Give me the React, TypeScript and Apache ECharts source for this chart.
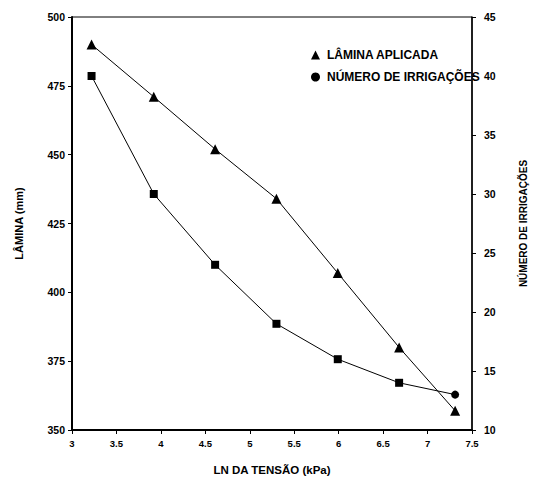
import React, { useEffect, useRef } from "react";
import * as echarts from "echarts";

const tensionLn = [3.22, 3.92, 4.61, 5.3, 5.99, 6.68, 7.31];
const laminaAplicada = [490, 471, 452, 434, 407, 380, 357];
const numeroIrrigacoes = [40, 30, 24, 19, 16, 14, 13];
const seriesNames = ["LÂMINA APLICADA", "NÚMERO DE IRRIGAÇÕES"];

const FONT = "Liberation Sans";

export default function App() {
  const ref = useRef<HTMLDivElement>(null);
  useEffect(() => {
    if (!ref.current) return;
    const chart = echarts.init(ref.current, undefined, { renderer: "svg" });
    const txt = (size: number) => ({
      color: "#000",
      fontFamily: FONT,
      fontWeight: "bold" as const,
      fontSize: size,
    });
    chart.setOption({
      animation: false,
      backgroundColor: "#fff",
      grid: {
        left: 72,
        right: 54,
        top: 17,
        bottom: 51,
        show: true,
        borderColor: "#000",
        borderWidth: 1,
        backgroundColor: "transparent",
      },
      legend: {
        orient: "vertical",
        left: 311,
        top: 49,
        itemGap: 10,
        itemWidth: 9,
        itemHeight: 9,
        padding: 0,
        textStyle: { ...txt(12), padding: [0, 0, 0, 2] },
        data: [
          { name: seriesNames[0], icon: "triangle" },
          { name: seriesNames[1], icon: "circle" },
        ],
      },
      xAxis: {
        type: "value",
        min: 3,
        max: 7.5,
        interval: 0.5,
        name: "LN DA TENSÃO (kPa)",
        nameLocation: "middle",
        nameGap: 34,
        nameTextStyle: txt(11.5),
        axisLine: { show: true, lineStyle: { color: "#000", width: 2 } },
        axisTick: { show: true, length: 4, lineStyle: { color: "#000" } },
        axisLabel: { ...txt(9.5), margin: 8 },
        splitLine: { show: false },
      },
      yAxis: [
        {
          type: "value",
          min: 350,
          max: 500,
          interval: 25,
          position: "left",
          name: "LÂMINA (mm)",
          nameLocation: "middle",
          nameGap: 48,
          nameTextStyle: txt(11),
          axisLine: { show: true, lineStyle: { color: "#000", width: 2 } },
          axisTick: { show: true, length: 4, lineStyle: { color: "#000" } },
          axisLabel: { ...txt(10.5), margin: 7 },
          splitLine: { show: false },
        },
        {
          type: "value",
          min: 10,
          max: 45,
          interval: 5,
          position: "right",
          name: "NÚMERO DE IRRIGAÇÕES",
          nameLocation: "middle",
          nameGap: 46,
          nameTextStyle: txt(10),
          axisLine: { show: true, lineStyle: { color: "#000", width: 1.5 } },
          axisTick: { show: true, length: 4, lineStyle: { color: "#000" } },
          axisLabel: { ...txt(10.5), margin: 12 },
          splitLine: { show: false },
        },
      ],
      series: [
        {
          name: seriesNames[0],
          type: "line",
          yAxisIndex: 0,
          symbol: "triangle",
          symbolSize: 10,
          itemStyle: { color: "#000" },
          lineStyle: { color: "#000", width: 1 },
          data: tensionLn.map((x, i) => [x, laminaAplicada[i]]),
        },
        {
          name: seriesNames[1],
          type: "line",
          yAxisIndex: 1,
          symbol: "rect",
          symbolSize: 8,
          itemStyle: { color: "#000" },
          lineStyle: { color: "#000", width: 1 },
          data: tensionLn.map((x, i) =>
            i === tensionLn.length - 1
              ? { value: [x, numeroIrrigacoes[i]], symbol: "circle", symbolSize: 8 }
              : [x, numeroIrrigacoes[i]]
          ),
        },
      ],
    });
    return () => chart.dispose();
  }, []);
  return <div ref={ref} style={{ width: 536, height: 481, position: "absolute", left: 0, top: 0 }} />;
}
